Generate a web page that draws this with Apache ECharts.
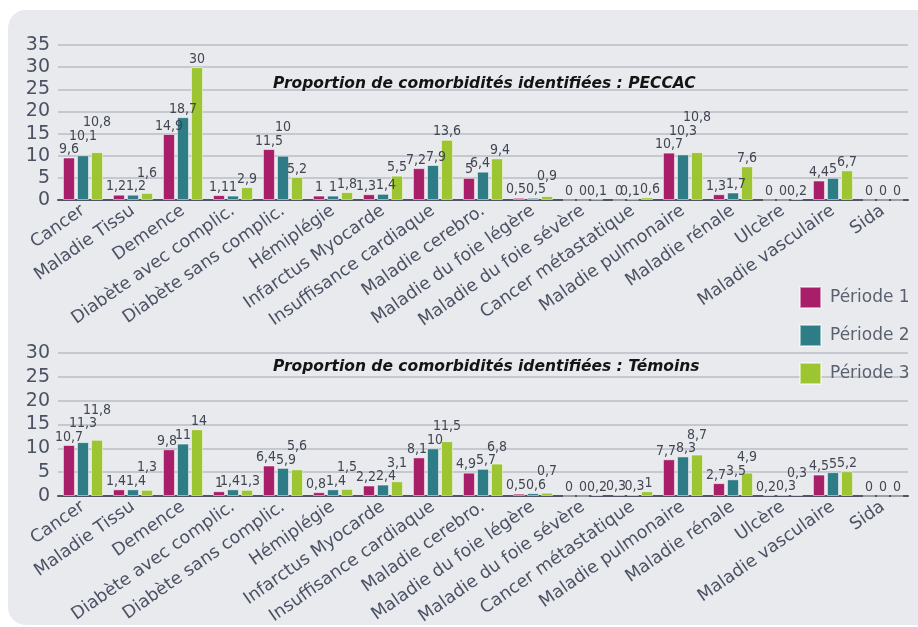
<!DOCTYPE html>
<html>
<head>
<meta charset="utf-8">
<script src="https://cdn.jsdelivr.net/npm/echarts@6/dist/echarts.min.js"></script>
<style>
  html, body { margin: 0; padding: 0; background: #ffffff; }
  #chart { width: 918px; height: 627px; }
</style>
</head>
<body>
<div id="chart"></div>
<script>
// Comorbidity categories (shared by both panels)
const categories = [
  'Cancer', 'Maladie Tissu', 'Demence', 'Diabète avec complic.', 'Diabète sans complic.',
  'Hémiplégie', 'Infarctus Myocarde', 'Insuffisance cardiaque', 'Maladie cerebro.',
  'Maladie du foie légère', 'Maladie du foie sévère', 'Cancer métastatique',
  'Maladie pulmonaire', 'Maladie rénale', 'Ulcère', 'Maladie vasculaire', 'Sida'
];

const periodNames = ['Période 1', 'Période 2', 'Période 3'];

// PECCAC panel (%)
const peccacP1 = [9.6, 1.2, 14.9, 1.1, 11.5, 1, 1.3, 7.2, 5, 0.5, 0, 0, 10.7, 1.3, 0, 4.4, 0];
const peccacP2 = [10.1, 1.2, 18.7, 1, 10, 1, 1.4, 7.9, 6.4, 0.5, 0, 0.1, 10.3, 1.7, 0, 5, 0];
const peccacP3 = [10.8, 1.6, 30, 2.9, 5.2, 1.8, 5.5, 13.6, 9.4, 0.9, 0.1, 0.6, 10.8, 7.6, 0.2, 6.7, 0];

// Témoins panel (%)
const temoinsP1 = [10.7, 1.4, 9.8, 1, 6.4, 0.8, 2.2, 8.1, 4.9, 0.5, 0, 0.3, 7.7, 2.7, 0.2, 4.5, 0];
const temoinsP2 = [11.3, 1.4, 11, 1.4, 5.9, 1.4, 2.4, 10, 5.7, 0.6, 0, 0.3, 8.3, 3.5, 0.3, 5, 0];
const temoinsP3 = [11.8, 1.3, 14, 1.3, 5.6, 1.5, 3.1, 11.5, 6.8, 0.7, 0.2, 1, 8.7, 4.9, 0.3, 5.2, 0];

// Value axis extents
const peccacMax = 35;
const temoinsMax = 30;
const axisStep = 5;

const titles = [
  'Proportion de comorbidités identifiées : PECCAC',
  'Proportion de comorbidités identifiées : Témoins'
];

const colors = ['#a91e68', '#2e7c86', '#9cc531'];
const textGray = '#4b5263';

// Plot geometry
const gridTops = [45, 353];
const gridHeights = [155, 143];
const barWidth = 12;
const barStep = 14;          // bar width + gap inside a group
const labelDistance = 1;
const labelFontSize = 14;
const labelFontFamily = 'DejaVu Sans Condensed';
const labelHeight = 14.5;
const spreadTolerance = 6.5; // small overlaps are spread sideways, larger ones stacked

const fmt = v => String(v).replace('.', ',');

// Value labels overlap inside a group; lift or spread them apart.
const measureCtx = document.createElement('canvas').getContext('2d');
measureCtx.font = labelFontSize + 'px "' + labelFontFamily + '"';

function labelOffsets(seriesValues, max, plotHeight) {
  const ppu = plotHeight / max;
  const out = seriesValues.map(() => []);
  categories.forEach((_, c) => {
    const placed = [];
    seriesValues.forEach((vals, s) => {
      const v = vals[c];
      const w = measureCtx.measureText(fmt(v)).width;
      const base = v * ppu + labelDistance;
      const lab = { s, x: (s - 1) * barStep, w, b: base, dx: 0, base };
      for (let iter = 0; iter < 4; iter++) {
        let moved = false;
        for (const p of placed) {
          const ov = Math.min(lab.x + lab.dx + lab.w / 2, p.x + p.dx + p.w / 2) -
                     Math.max(lab.x + lab.dx - lab.w / 2, p.x + p.dx - p.w / 2);
          const vOv = lab.b < p.b + labelHeight && lab.b + labelHeight > p.b;
          if (ov > 0.5 && vOv) {
            if (ov <= spreadTolerance) { p.dx -= ov / 2; lab.dx += ov / 2; }
            else { lab.b = p.b + labelHeight - 1; }
            moved = true;
          }
        }
        if (!moved) break;
      }
      placed.push(lab);
    });
    placed.forEach(l => { out[l.s][c] = [l.dx, -(l.b - l.base)]; });
  });
  return out;
}

function valueAxis(gridIndex, max) {
  return {
    type: 'value', gridIndex, min: 0, max, interval: axisStep,
    axisLine: { show: false }, axisTick: { show: false },
    axisLabel: { fontFamily: 'DejaVu Sans', fontSize: 19, color: textGray, margin: 8 },
    splitLine: { lineStyle: { color: '#b9bdc5', width: 1.5 } }
  };
}

function categoryAxis(gridIndex) {
  return {
    type: 'category', gridIndex, data: categories,
    axisLine: { lineStyle: { color: '#4f5562', width: 2 } },
    axisTick: { show: false },
    axisLabel: {
      interval: 0, rotate: 35, margin: 9,
      fontFamily: 'DejaVu Sans', fontSize: 17.5, color: textGray
    }
  };
}

function barSeries(name, values, offsets, idx, axisIdx) {
  return {
    name, type: 'bar',
    data: values.map((v, i) => ({ value: v, label: { offset: offsets[i] } })),
    xAxisIndex: axisIdx, yAxisIndex: axisIdx,
    barWidth: barWidth, barGap: '17%',
    itemStyle: { color: colors[idx], borderColor: 'rgba(255,255,255,0.5)', borderWidth: 1 },
    label: {
      show: true, position: 'top', distance: labelDistance,
      fontFamily: labelFontFamily, fontSize: labelFontSize, color: '#404652',
      formatter: p => fmt(p.value)
    }
  };
}

const peccac = [peccacP1, peccacP2, peccacP3];
const temoins = [temoinsP1, temoinsP2, temoinsP3];
const peccacOffsets = labelOffsets(peccac, peccacMax, gridHeights[0]);
const temoinsOffsets = labelOffsets(temoins, temoinsMax, gridHeights[1]);

const chart = echarts.init(document.getElementById('chart'), null, { renderer: 'canvas' });

const option = {
  animation: false,
  graphic: {
    elements: [{
      type: 'rect', z: -100, silent: true,
      shape: { x: 8, y: 10, width: 940, height: 615, r: 18 },
      style: { fill: '#e9eaee' }
    }]
  },
  title: titles.map((t, i) => ({
    text: t, left: 268, top: i === 0 ? 71 : 354,
    textStyle: { fontFamily: 'DejaVu Sans', fontStyle: 'italic', fontWeight: 'bold', fontSize: 15.5, color: '#141414' }
  })),
  legend: {
    data: periodNames, orient: 'vertical', left: 794, top: 281,
    itemWidth: 21, itemHeight: 21, itemGap: 15,
    icon: 'rect',
    textStyle: { fontFamily: 'DejaVu Sans', fontSize: 17, color: '#5a616e', padding: [0, 0, 0, 4] }
  },
  grid: [
    { left: 58, right: 10, top: gridTops[0], height: gridHeights[0], outerBoundsMode: 'none', containLabel: false },
    { left: 58, right: 10, top: gridTops[1], height: gridHeights[1], outerBoundsMode: 'none', containLabel: false }
  ],
  xAxis: [categoryAxis(0), categoryAxis(1)],
  yAxis: [valueAxis(0, peccacMax), valueAxis(1, temoinsMax)],
  series: [
    barSeries(periodNames[0], peccacP1, peccacOffsets[0], 0, 0),
    barSeries(periodNames[1], peccacP2, peccacOffsets[1], 1, 0),
    barSeries(periodNames[2], peccacP3, peccacOffsets[2], 2, 0),
    barSeries(periodNames[0], temoinsP1, temoinsOffsets[0], 0, 1),
    barSeries(periodNames[1], temoinsP2, temoinsOffsets[1], 1, 1),
    barSeries(periodNames[2], temoinsP3, temoinsOffsets[2], 2, 1)
  ]
};

chart.setOption(option);
</script>
</body>
</html>
